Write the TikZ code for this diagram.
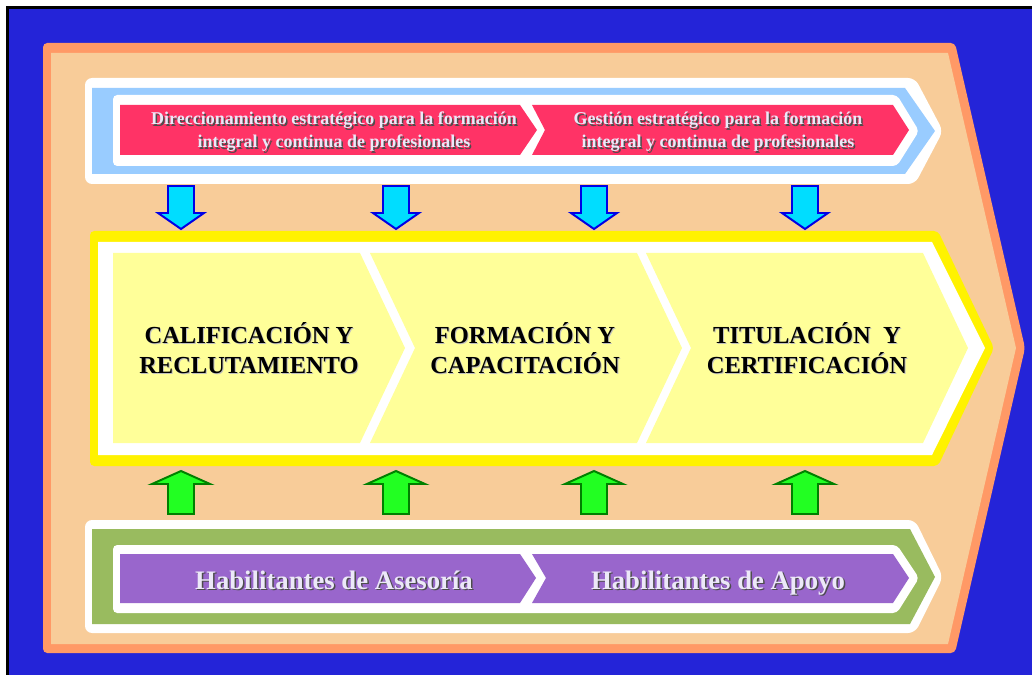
\documentclass[tikz,border=0pt]{standalone}
\usepackage{fontspec}
\newfontfamily\tnr{Liberation Serif}
\usetikzlibrary{calc}
\definecolor{bgblue}{HTML}{2424D8}
\definecolor{rimorange}{HTML}{FF9966}
\definecolor{peach}{HTML}{F8CC99}
\definecolor{skyblue}{HTML}{99CCFF}
\definecolor{rosered}{HTML}{FF3366}
\definecolor{paleyellow}{HTML}{FFFF99}
\definecolor{moss}{HTML}{99BB5F}
\definecolor{lilac}{HTML}{9966CC}
\definecolor{arrowcyan}{HTML}{00DDFF}
\definecolor{arrowgreen}{HTML}{22FF22}
\definecolor{lavender}{HTML}{ECE8F8}
\tikzset{
  toplbl/.style={font=\tnr\bfseries\fontsize{12.8}{16.4}\selectfont, align=center, inner sep=0pt},
  midlbl/.style={font=\tnr\bfseries\fontsize{17.4}{21.3}\selectfont, align=center, inner sep=0pt},
  botlbl/.style={font=\tnr\bfseries\fontsize{19}{22}\selectfont, anchor=base, inner sep=0pt}
}
\def\downblock(#1){\draw[line width=1.4pt, draw=blue!90!black, fill=arrowcyan] (#1-13,186) -- (#1+13,186) -- (#1+13,213) -- (#1+23,213) -- (#1,229) -- (#1-23,213) -- (#1-13,213) -- cycle;}
\def\upblock(#1){\draw[line width=1.4pt, draw=green!50!black, fill=arrowgreen] (#1-13,514) -- (#1+13,514) -- (#1+13,484) -- (#1+29,484) -- (#1,471) -- (#1-29,484) -- (#1-13,484) -- cycle;}

\begin{document}
\begin{tikzpicture}[x=0.025cm, y=-0.025cm]
			%%%%% START %%%%%
			\useasboundingbox (0,0) rectangle (1032,675);
			\fill[white] (0,0) rectangle (1032,675);
			\fill[black] (6,6) rectangle (1032,675);
			\fill[bgblue] (9,9) rectangle (1032,675);
			
			% frame
			\fill[rimorange, rounded corners=3] (43,43) -- (955,43) -- (1025,348) -- (955,653) -- (43,653) -- cycle;
			\fill[peach] (51,53) -- (948,53) -- (1016,348) -- (948,644) -- (51,644) -- cycle;
			
			% top band
			\fill[white, rounded corners=5] (85,78) -- (915,78) -- (943,131) -- (915,184) -- (85,184) -- cycle;
			\fill[skyblue] (92,88) -- (905,88) -- (935,131) -- (905,174) -- (92,174) -- cycle;
			\fill[white, rounded corners=3] (113,95) -- (897,95) -- (919,131) -- (897,166) -- (113,166) -- cycle;
			\fill[rosered] (120,105) -- (520,105) -- (537,130) -- (520,155) -- (120,155) -- cycle;
			\fill[rosered] (532,105) -- (893,105) -- (909,130) -- (893,155) -- (532,155) -- (545,130) -- cycle;
			
			\node[toplbl, text=black!70] (dirsh) at (335.5,133.5) {Direccionamiento estratégico para la formación\\integral y continua de profesionales};
			\node[toplbl, text=lavender] (dir) at (334,132) {Direccionamiento estratégico para la formación\\integral y continua de profesionales};
			\node[toplbl, text=black!70] (gessh) at (719.5,133.5) {Gestión estratégico para la formación\\integral y continua de profesionales};
			\node[toplbl, text=lavender] (ges) at (718,132) {Gestión estratégico para la formación\\integral y continua de profesionales};
			
			% middle band
			\fill[yellow, rounded corners=3] (90,231) -- (938,231) -- (994,348) -- (938,466) -- (90,466) -- cycle;
			\fill[white] (98,242) -- (932,242) -- (985,348) -- (932,455) -- (98,455) -- cycle;
			\fill[paleyellow] (113,253) -- (360,253) -- (405,348) -- (360,443) -- (113,443) -- cycle;
			\fill[paleyellow] (370,253) -- (637,253) -- (682,348) -- (637,443) -- (370,443) -- (415,348) -- cycle;
			\fill[paleyellow] (646,253) -- (923,253) -- (968,348) -- (923,443) -- (646,443) -- (691,348) -- cycle;
			
			\node[midlbl, text=black!25] at (250,349) {CALIFICACIÓN Y\\RECLUTAMIENTO};
			\node[midlbl] (cal) at (249,348) {CALIFICACIÓN Y\\RECLUTAMIENTO};
			\node[midlbl, text=black!25] at (526,349) {FORMACIÓN Y\\CAPACITACIÓN};
			\node[midlbl] (for) at (525,348) {FORMACIÓN Y\\CAPACITACIÓN};
			\node[midlbl, text=black!25] at (808,349) {TITULACIÓN\ \ Y\\CERTIFICACIÓN};
			\node[midlbl] (tit) at (807,348) {TITULACIÓN\ \ Y\\CERTIFICACIÓN};
			
			% bottom band
			\fill[white, rounded corners=5] (85,520) -- (915,520) -- (943,577) -- (915,633) -- (85,633) -- cycle;
			\fill[moss] (92,529) -- (910,529) -- (935,577) -- (910,624) -- (92,624) -- cycle;
			\fill[white, rounded corners=3] (113,545) -- (897,545) -- (919,578) -- (897,613) -- (113,613) -- cycle;
			\fill[lilac] (120,554) -- (520,554) -- (536,578) -- (520,603) -- (120,603) -- cycle;
			\fill[lilac] (532,554) -- (893,554) -- (909,578) -- (893,603) -- (532,603) -- (546,578) -- cycle;
			
			\node[botlbl, text=black!70] (asesh) at (335.5,590.5) {Habilitantes de Asesoría};
			\node[botlbl, text=lavender] (ase) at (334,589) {Habilitantes de Asesoría};
			\node[botlbl, text=black!70] (aposh) at (719.5,590.5) {Habilitantes de Apoyo};
			\node[botlbl, text=lavender] (apo) at (718,589) {Habilitantes de Apoyo};
			
			% block arrows
			\foreach \x in {181,396,594,805} {
				\downblock(\x)
				\upblock(\x)
			}
			%%%%% END %%%%%
\end{tikzpicture}
\end{document}
